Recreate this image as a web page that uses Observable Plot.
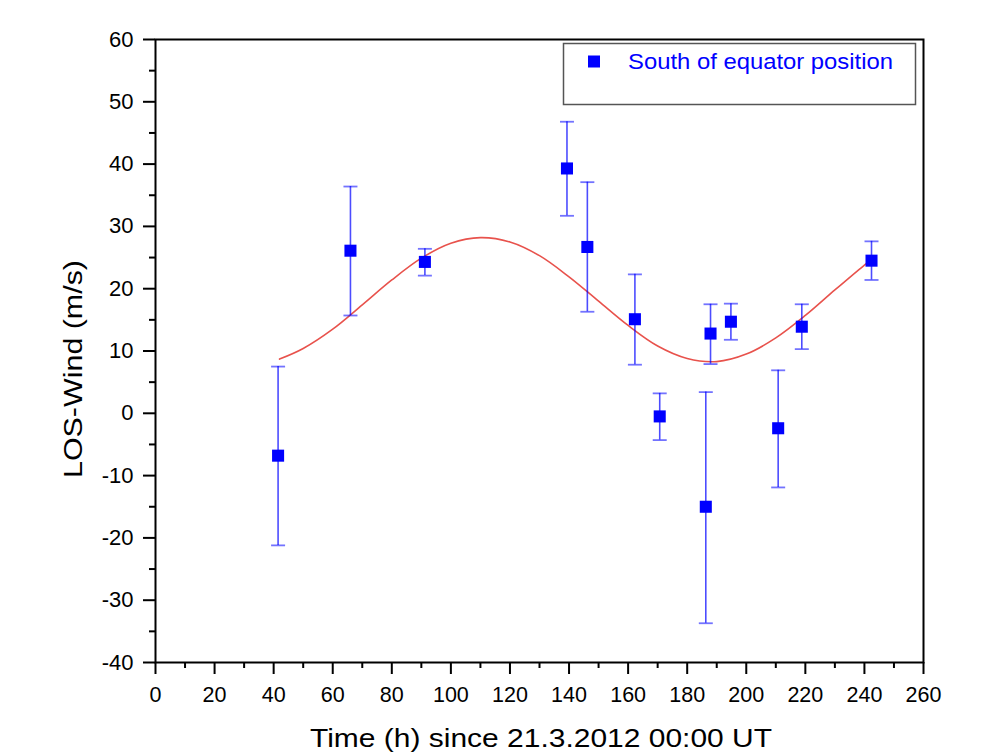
<!DOCTYPE html>
<html>
<head>
<meta charset="utf-8">
<script src="https://cdn.jsdelivr.net/npm/d3@7"></script>
<script src="https://cdn.jsdelivr.net/npm/@observablehq/plot@0.6"></script>
<style>
  html, body { margin: 0; padding: 0; background: white; }
  #chart { position: relative; width: 988px; height: 755px; }
</style>
</head>
<body>
<div id="chart"></div>
<script>
// Observations (time in hours since 21.3.2012 00:00 UT, LOS wind in m/s)
const timeH   = [41.5, 66.0, 91.2, 139.3, 146.2, 162.3, 170.7, 186.3, 187.9, 194.8, 210.8, 218.8, 242.4];
const wind    = [-6.8, 26.1, 24.3, 39.3, 26.7, 15.1, -0.5, -15.0, 12.8, 14.7, -2.4, 13.9, 24.5];
const errTop  = [7.5, 36.4, 26.4, 46.8, 37.1, 22.3, 3.2, 3.4, 17.5, 17.6, 6.9, 17.5, 27.6];
const errBot  = [-21.2, 15.7, 22.1, 31.7, 16.3, 7.8, -4.3, -33.7, 7.9, 11.8, -11.9, 10.3, 21.4];

// Fitted curve
const fitT = [42, 50, 60, 70, 80, 90, 100, 110, 120, 130, 140, 150, 160, 170, 180, 190, 200, 210, 220, 230, 240, 242.4];
const fitV = [8.7, 10.4, 13.5, 17.4, 21.4, 24.9, 27.3, 28.2, 27.5, 25.3, 21.9, 18.0, 14.1, 10.8, 8.8, 8.3, 9.5, 12.1, 15.7, 19.8, 23.8, 24.7];

// Ticks
const xMajor = [0, 20, 40, 60, 80, 100, 120, 140, 160, 180, 200, 220, 240, 260];
const xMinor = [10, 30, 50, 70, 90, 110, 130, 150, 170, 190, 210, 230, 250];
const yMajor = [-40, -30, -20, -10, 0, 10, 20, 30, 40, 50, 60];
const yMinor = [-35, -25, -15, -5, 5, 15, 25, 35, 45, 55];

const xLabel = "Time (h) since 21.3.2012 00:00 UT";
const yLabel = "LOS-Wind (m/s)";
const seriesName = "South of equator position";

const points = timeH.map((t, i) => ({t, v: wind[i], hi: errTop[i], lo: errBot[i]}));
const fit = fitT.map((t, i) => ({t, v: fitV[i]}));

const cap = {
  draw(context, size) {
    const r = Math.sqrt(size / Math.PI);
    context.moveTo(-r, 0);
    context.lineTo(r, 0);
  }
};

const fmt = d => String(d);
const FONT = "'Liberation Sans', Arial, sans-serif";

const plot = Plot.plot({
  width: 988,
  height: 755,
  marginLeft: 155,
  marginRight: 65,
  marginTop: 39,
  marginBottom: 93,
  x: {domain: [0, 260]},
  y: {domain: [-40, 60]},
  style: {fontFamily: FONT, color: "black", background: "white", overflow: "visible"},
  marks: [
    Plot.axisY(yMajor, {tickSize: 12, tickPadding: 10, fontSize: 22, strokeWidth: 2, tickFormat: fmt, label: null}),
    Plot.axisY(yMinor, {tickSize: 6, text: null, strokeWidth: 2, label: null}),
    Plot.axisX(xMajor, {tickSize: 12, tickPadding: 12, fontSize: 21.5, strokeWidth: 2, tickFormat: fmt, label: null}),
    Plot.axisX(xMinor, {tickSize: 6, text: null, strokeWidth: 2, label: null}),
    Plot.line(fit, {x: "t", y: "v", stroke: "#e8524c", strokeWidth: 1.6, curve: "catmull-rom"}),
    Plot.ruleX(points, {x: "t", y1: "lo", y2: "hi", stroke: "blue", strokeWidth: 1.6, strokeOpacity: 0.7}),
    Plot.dot(points, {x: "t", y: "hi", symbol: cap, r: 7, fill: "none", stroke: "blue", strokeWidth: 1.8, strokeOpacity: 0.55}),
    Plot.dot(points, {x: "t", y: "lo", symbol: cap, r: 7, fill: "none", stroke: "blue", strokeWidth: 1.8, strokeOpacity: 0.55}),
    Plot.dot(points, {x: "t", y: "v", symbol: "square", r: 6.8, fill: "blue", stroke: "none"}),
    Plot.frame({stroke: "black", strokeWidth: 2})
  ]
});

document.getElementById("chart").appendChild(plot);
const svg = d3.select(plot);

// axis titles
svg.append("text")
  .attr("x", 310).attr("y", 747)
  .attr("text-anchor", "start").attr("font-family", FONT).attr("font-size", 26).attr("fill", "black")
  .attr("textLength", 462).attr("lengthAdjust", "spacingAndGlyphs")
  .text(xLabel);
svg.append("text")
  .attr("transform", "translate(82,478) rotate(-90)")
  .attr("text-anchor", "start").attr("font-family", FONT).attr("font-size", 26).attr("fill", "black")
  .attr("textLength", 218).attr("lengthAdjust", "spacingAndGlyphs")
  .text(yLabel);

// legend box inside the plot area
const lg = svg.append("g").attr("class", "legend");
lg.append("rect").attr("x", 563.5).attr("y", 43.5).attr("width", 352).attr("height", 61)
  .attr("fill", "white").attr("stroke", "#555").attr("stroke-width", 1.5);
lg.append("rect").attr("x", 588).attr("y", 55.5).attr("width", 12).attr("height", 12).attr("fill", "blue");
lg.append("text").attr("x", 628).attr("y", 68.5).attr("font-size", 22.5).attr("fill", "blue")
  .attr("text-anchor", "start").attr("font-family", FONT)
  .attr("textLength", 265).attr("lengthAdjust", "spacingAndGlyphs")
  .text(seriesName);
</script>
</body>
</html>
